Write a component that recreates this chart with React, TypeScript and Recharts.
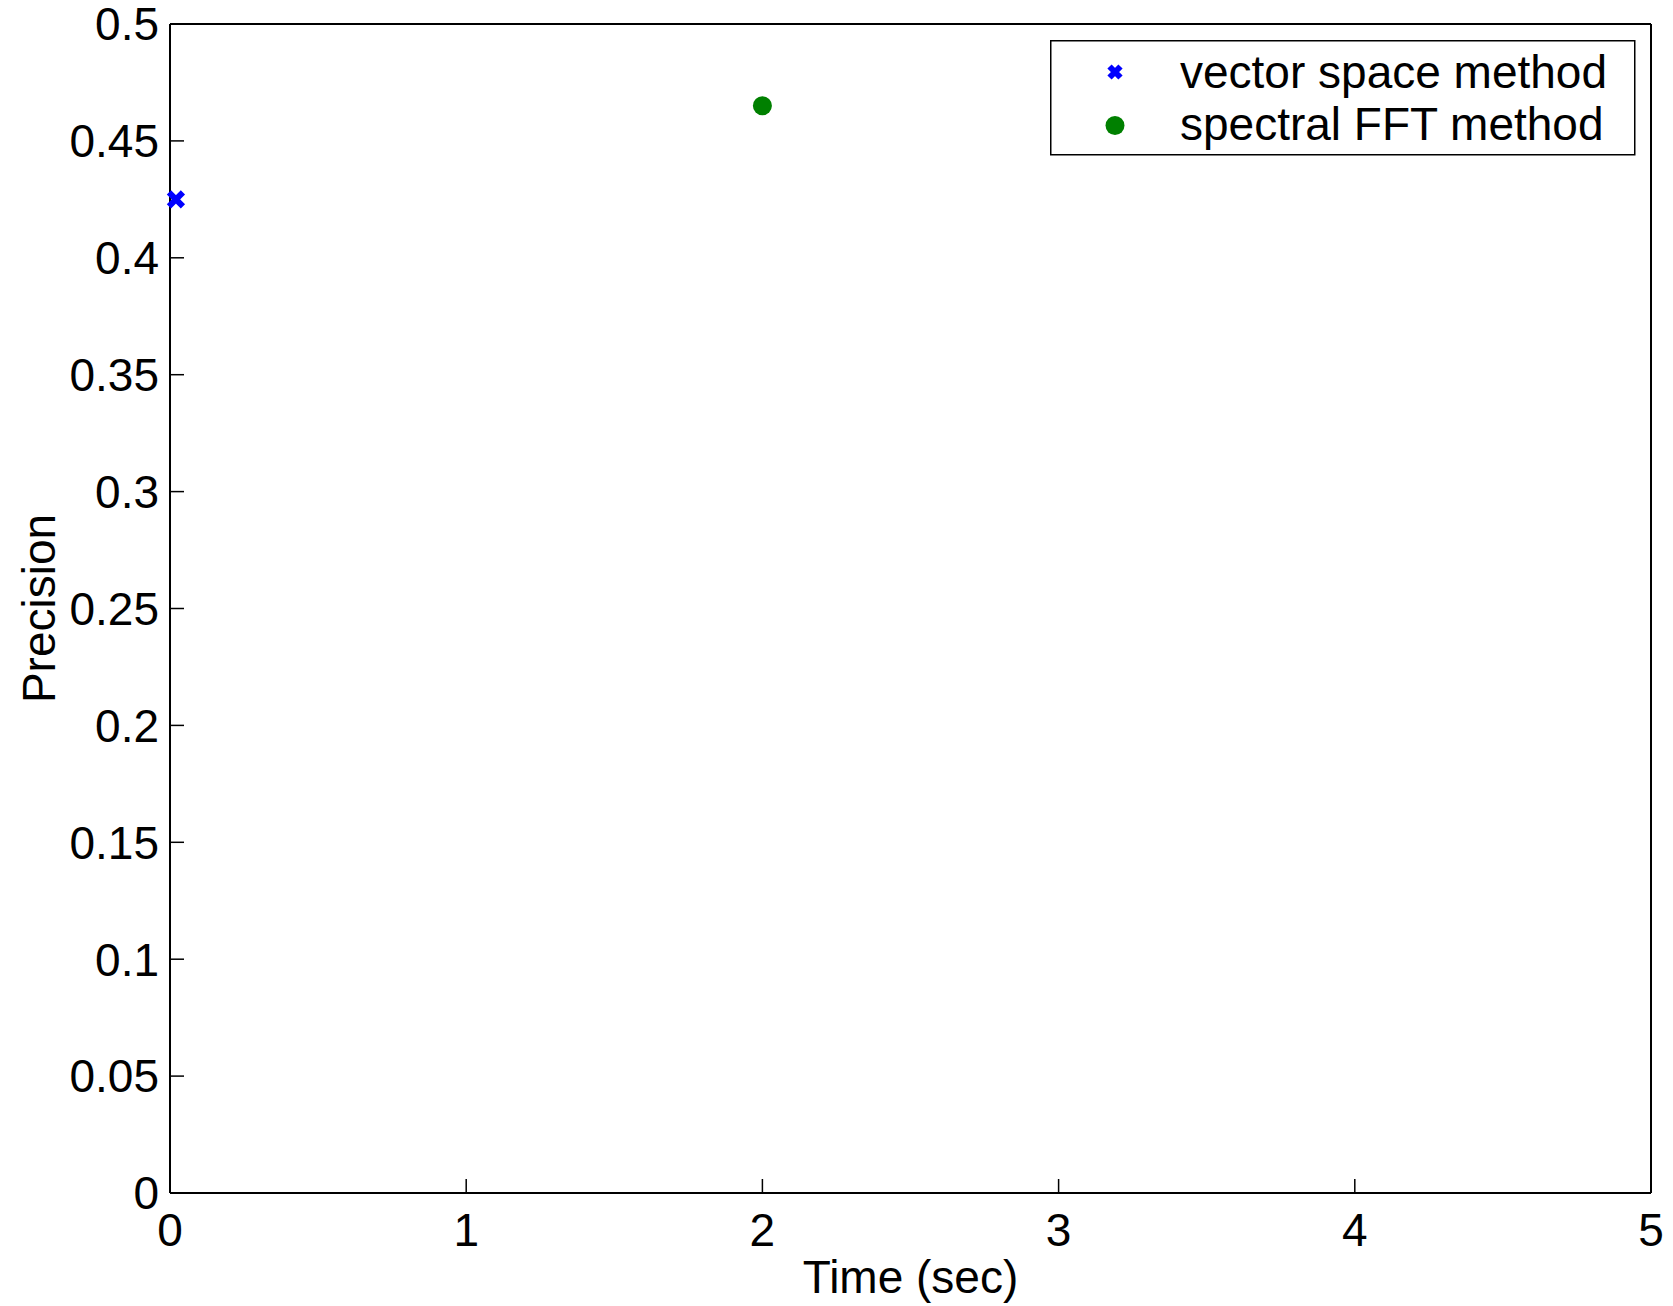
import React from "react";
import { ScatterChart, Scatter, XAxis, YAxis, Label } from "recharts";

// values
const vectorSpaceTime = [0.02];
const vectorSpacePrecision = [0.425];
const spectralTime = [2.0];
const spectralPrecision = [0.465];

const seriesNames = ["vector space method", "spectral FFT method"];
const seriesColors = ["#0000ff", "#008000"];

const xTicks = [0, 1, 2, 3, 4, 5];
const yTicks = [0, 0.05, 0.1, 0.15, 0.2, 0.25, 0.3, 0.35, 0.4, 0.45, 0.5];

const vectorData = vectorSpaceTime.map((t, i) => ({ time: t, precision: vectorSpacePrecision[i] }));
const spectralData = spectralTime.map((t, i) => ({ time: t, precision: spectralPrecision[i] }));

const FONT = "'Liberation Sans', Arial, Helvetica, sans-serif";
const FS = 46;

const CrossShape = (props: any) => {
  const { cx, cy, r = 6.5 } = props;
  return (
    <path
      d={`M${cx - r},${cy - r}L${cx + r},${cy + r}M${cx + r},${cy - r}L${cx - r},${cy + r}`}
      stroke={seriesColors[0]}
      strokeWidth={6}
      fill="none"
    />
  );
};

const DotShape = (props: any) => {
  const { cx, cy } = props;
  return <circle cx={cx} cy={cy} r={9.5} fill={seriesColors[1]} />;
};

// legend drawn as a box over the plot, top right
const LegendBox = () => {
  const rows = [32, 85.5];
  const baselines = [48, 100];
  return (
    <svg
      width={586}
      height={116}
      style={{ position: "absolute", left: 1050, top: 40, display: "block" }}
    >
      <rect x={0.75} y={0.75} width={584} height={114} fill="#fff" stroke="#000" strokeWidth={1.5} />
      {seriesNames.map((name, i) => (
        <g key={name}>
          {i === 0 ? <CrossShape cx={65} cy={rows[i]} r={5.5} /> : <DotShape cx={65} cy={rows[i]} />}
          <text x={130} y={baselines[i]} fontSize={FS} fontFamily={FONT} fill="#000">
            {name}
          </text>
        </g>
      ))}
    </svg>
  );
};

const YTitle = (props: any) => {
  const { viewBox } = props;
  const x = viewBox.x + 39;
  const y = viewBox.y + viewBox.height / 2;
  return (
    <text
      x={x}
      y={y}
      transform={`rotate(-90, ${x}, ${y})`}
      textAnchor="middle"
      dominantBaseline="central"
      fontSize={FS}
      fontFamily={FONT}
      fill="#000"
    >
      Precision
    </text>
  );
};

const line = { stroke: "#000", strokeWidth: 2 };
const tickLine = { stroke: "#000", strokeWidth: 1.5 };

export default function App() {
  return (
    <div style={{ position: "absolute", left: 0, top: 0, width: 1673, height: 1306, background: "#fff" }}>
      <ScatterChart
        width={1673}
        height={1306}
        margin={{ top: 23, right: 21, bottom: 0, left: 0 }}
        style={{ fontFamily: FONT }}
      >
        <XAxis
          xAxisId="bottom"
          type="number"
          dataKey="time"
          domain={[0, 5]}
          ticks={xTicks}
          interval={0}
          height={113}
          axisLine={line}
          tickLine={tickLine}
          tickSize={-14}
          tickMargin={34}
          tick={{ fill: "#000", fontSize: FS, fontFamily: FONT }}
        >
          <Label
            value="Time (sec)"
            position="insideBottom"
            offset={13}
            fill="#000"
            fontSize={FS}
            fontFamily={FONT}
          />
        </XAxis>
        <XAxis
          xAxisId="top"
          orientation="top"
          type="number"
          dataKey="time"
          domain={[0, 5]}
          ticks={xTicks}
          interval={0}
          height={1}
          axisLine={line}
          tickLine={tickLine}
          tickSize={-14}
          tick={false}
        />
        <YAxis
          yAxisId="left"
          type="number"
          dataKey="precision"
          domain={[0, 0.5]}
          ticks={yTicks}
          interval={0}
          width={170}
          axisLine={line}
          tickLine={tickLine}
          tickSize={-14}
          tickMargin={25}
          tick={{ fill: "#000", fontSize: FS, fontFamily: FONT }}
        >
          <Label content={<YTitle />} />
        </YAxis>
        <YAxis
          yAxisId="right"
          orientation="right"
          type="number"
          dataKey="precision"
          domain={[0, 0.5]}
          ticks={yTicks}
          interval={0}
          width={1}
          axisLine={line}
          tickLine={tickLine}
          tickSize={-14}
          tick={false}
        />
        <Scatter
          name={seriesNames[0]}
          data={vectorData}
          xAxisId="bottom"
          yAxisId="left"
          fill={seriesColors[0]}
          shape={<CrossShape r={7} />}
          isAnimationActive={false}
        />
        <Scatter
          name={seriesNames[1]}
          data={spectralData}
          xAxisId="bottom"
          yAxisId="left"
          fill={seriesColors[1]}
          shape={<DotShape />}
          isAnimationActive={false}
        />
      </ScatterChart>
      <LegendBox />
    </div>
  );
}
